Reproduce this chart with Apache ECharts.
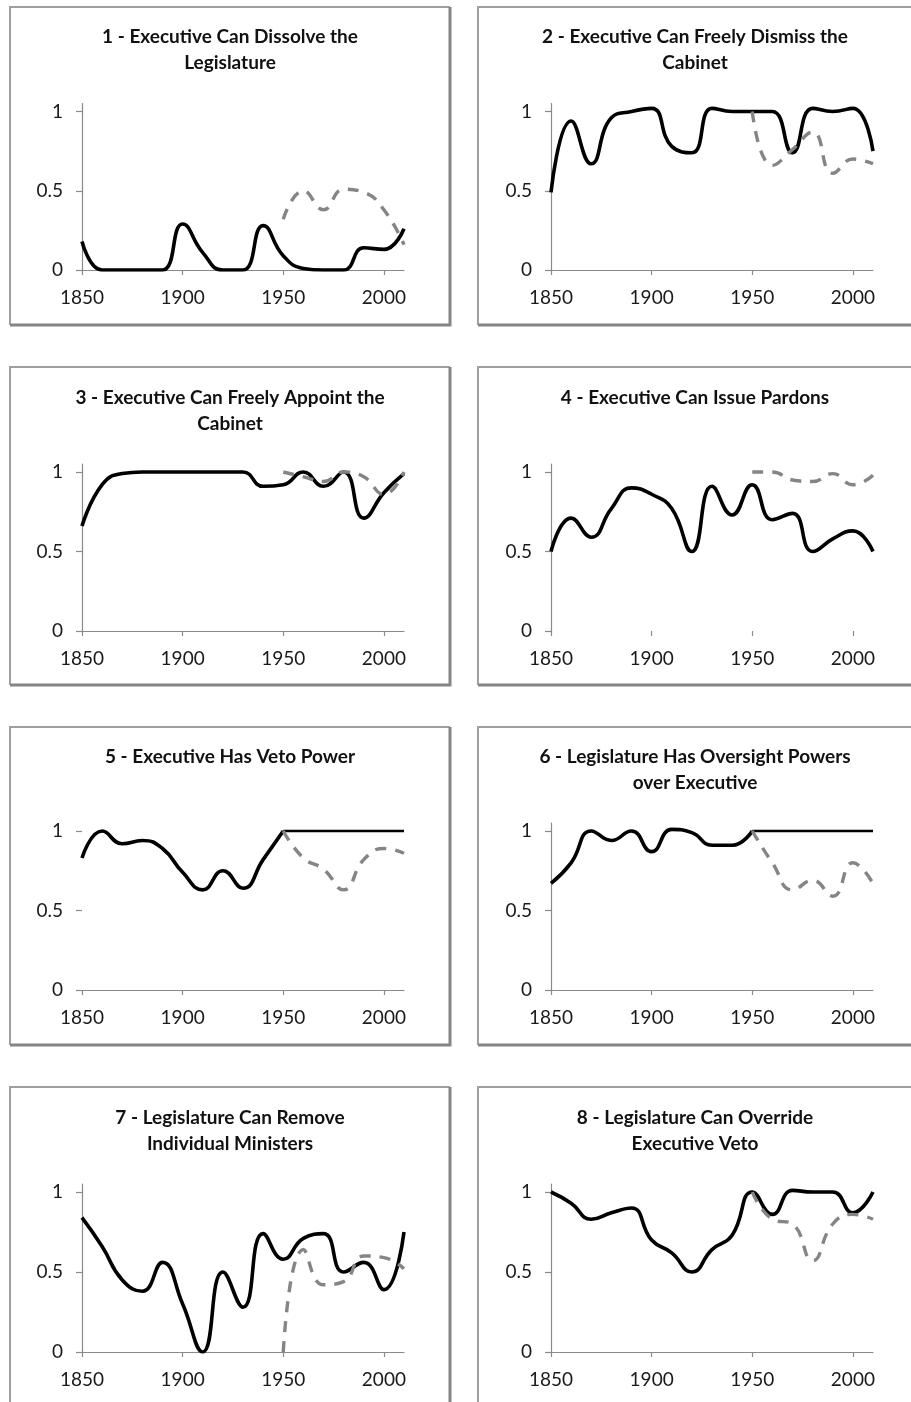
<!DOCTYPE html>
<html>
<head>
<meta charset="utf-8">
<script src="https://cdn.jsdelivr.net/npm/echarts@6/dist/echarts.min.js"></script>
<style>
  html, body { margin: 0; padding: 0; background: #fff; }
  #chart { width: 911px; height: 1402px; }
</style>
</head>
<body>
<div id="chart"></div>
<script>
// ---- Data ----
const years = [1850, 1860, 1870, 1880, 1890, 1900, 1910, 1920, 1930, 1940, 1950, 1960, 1970, 1980, 1990, 2000, 2010];
const xTickLabels = [1850, 1900, 1950, 2000];
const yTickLabels = [0, 0.5, 1];

const titles = [
  '1 - Executive Can Dissolve the\nLegislature',
  '2 - Executive Can Freely Dismiss the\nCabinet',
  '3 - Executive Can Freely Appoint the\nCabinet',
  '4 - Executive Can Issue Pardons',
  '5 - Executive Has Veto Power',
  '6 - Legislature Has Oversight Powers\nover Executive',
  '7 - Legislature Can Remove\nIndividual Ministers',
  '8 - Legislature Can Override\nExecutive Veto'
];

const p1Black = [0.18, 0, 0, 0, 0, 0.29, 0.11, 0, 0, 0.28, 0.09, 0.01, 0, 0, 0.14, 0.13, 0.26];
const p1Gray  = [null, null, null, null, null, null, null, null, null, null, 0.32, 0.50, 0.38, 0.51, 0.49, 0.38, 0.16];

const p2Black = [0.49, 0.94, 0.67, 0.96, 1.0, 1.02, 0.78, 0.74, 1.02, 1.0, 1.0, 1.0, 0.74, 1.02, 1.0, 1.02, 0.75];
const p2Gray  = [null, null, null, null, null, null, null, null, null, null, 1.0, 0.66, 0.76, 0.87, 0.61, 0.70, 0.67];

const p3Black = [0.66, 0.92, 0.99, 1.0, 1.0, 1.0, 1.0, 1.0, 1.0, 0.91, 0.92, 1.0, 0.91, 1.0, 0.71, 0.87, 0.99];
const p3Gray  = [null, null, null, null, null, null, null, null, null, null, 1.0, 0.97, 0.94, 1.0, 0.97, 0.86, 1.0];

const p4Black = [0.50, 0.71, 0.59, 0.77, 0.90, 0.86, 0.77, 0.50, 0.91, 0.73, 0.92, 0.70, 0.74, 0.50, 0.58, 0.63, 0.50];
const p4Gray  = [null, null, null, null, null, null, null, null, null, null, 1.0, 1.0, 0.95, 0.94, 0.99, 0.92, 0.98];

const p5Black = [0.83, 1.0, 0.92, 0.94, 0.89, 0.74, 0.63, 0.75, 0.64, 0.82, 1.0, 1.0, 1.0, 1.0, 1.0, 1.0, 1.0];
const p5Gray  = [null, null, null, null, null, null, null, null, null, null, 1.0, 0.83, 0.76, 0.63, 0.82, 0.89, 0.86];

const p6Black = [0.67, 0.80, 1.0, 0.94, 1.0, 0.87, 1.01, 0.99, 0.91, 0.91, 1.0, 1.0, 1.0, 1.0, 1.0, 1.0, 1.0];
const p6Gray  = [null, null, null, null, null, null, null, null, null, null, 1.0, 0.80, 0.63, 0.69, 0.59, 0.80, 0.67];

const p7Black = [0.84, 0.66, 0.45, 0.38, 0.56, 0.30, 0.0, 0.50, 0.28, 0.74, 0.58, 0.71, 0.74, 0.50, 0.56, 0.39, 0.75];
const p7Gray  = [null, null, null, null, null, null, null, null, null, null, 0.0, 0.64, 0.42, 0.44, 0.60, 0.59, 0.52];

const p8Black = [1.0, 0.93, 0.83, 0.87, 0.90, 0.70, 0.62, 0.50, 0.64, 0.73, 1.0, 0.86, 1.01, 1.0, 1.0, 0.87, 1.0];
const p8Gray  = [null, null, null, null, null, null, null, null, null, null, 1.0, 0.83, 0.80, 0.57, 0.80, 0.86, 0.83];

const blackSeries = [p1Black, p2Black, p3Black, p4Black, p5Black, p6Black, p7Black, p8Black];
const graySeries  = [p1Gray, p2Gray, p3Gray, p4Gray, p5Gray, p6Gray, p7Gray, p8Gray];

// ---- Layout ----
const FONT = 'Lato, "Open Sans", sans-serif';
const colX = [{ plotLeft: 82, boxL: 10, boxR: 450 }, { plotLeft: 551, boxL: 478, boxR: 916 }];
const rows = [
  { y1: 111.5, y0: 270, boxT: 7, boxB: 325, titleTop: 24 },
  { y1: 472, y0: 631, boxT: 367, boxB: 685, titleTop: 385 },
  { y1: 831, y0: 990, boxT: 727, boxB: 1045, titleTop: 744 },
  { y1: 1192, y0: 1352, boxT: 1087, boxB: 1420, titleTop: 1105 }
];
const Y_MAX = 1.05;
const PLOT_W = 322;
// per-panel quirks seen in the picture
const hideXAxisLine = [false, false, false, true, false, false, false, false];
const hideYAxisLine = [false, false, false, false, true, false, false, false];
const thinAfter1950 = [false, false, false, false, true, true, false, false];

function pairs(arr, from, to) {
  const out = [];
  for (let i = 0; i < years.length; i++) {
    const y = years[i];
    if (arr[i] == null) continue;
    if (from != null && y < from) continue;
    if (to != null && y > to) continue;
    out.push([y, arr[i]]);
  }
  return out;
}

const grids = [], xAxes = [], yAxes = [], series = [], titleOpts = [], graphics = [];

for (let p = 0; p < 8; p++) {
  const c = colX[p % 2];
  const r = rows[Math.floor(p / 2)];
  const unit = r.y0 - r.y1;
  const top = r.y0 - unit * Y_MAX;
  grids.push({ left: c.plotLeft, top: top, width: PLOT_W, height: r.y0 - top, containLabel: false });

  xAxes.push({
    type: 'value', gridIndex: p, min: 1850, max: 2010, interval: 50,
    axisLine: { show: !hideXAxisLine[p], lineStyle: { color: '#8a8a8a', width: 1.2 } },
    axisTick: { show: true, inside: false, length: 5, customValues: xTickLabels, lineStyle: { color: '#8a8a8a', width: 1.2 } },
    axisLabel: { customValues: xTickLabels, margin: 18, fontFamily: FONT, fontSize: 19, color: '#1a1a1a',
                 formatter: function (v) { return String(v); } },
    splitLine: { show: false }
  });
  yAxes.push({
    type: 'value', gridIndex: p, min: 0, max: Y_MAX, interval: 0.5,
    axisLine: { show: !hideYAxisLine[p], lineStyle: { color: '#8a8a8a', width: 1.2 } },
    axisTick: { show: true, inside: false, length: 6, customValues: yTickLabels, lineStyle: { color: '#8a8a8a', width: 1.2 } },
    axisLabel: { customValues: yTickLabels, margin: 19, fontFamily: FONT, fontSize: 19, color: '#1a1a1a',
                 formatter: function (v) { return String(v); } },
    splitLine: { show: false }
  });

  const common = { type: 'line', xAxisIndex: p, yAxisIndex: p, smooth: 0.5, showSymbol: false, symbol: 'none', silent: true, animation: false };
  if (thinAfter1950[p]) {
    series.push(Object.assign({}, common, { data: pairs(blackSeries[p], null, 1950), lineStyle: { color: '#000', width: 3.6 } }));
    series.push(Object.assign({}, common, { data: pairs(blackSeries[p], 1950, null), lineStyle: { color: '#000', width: 2.4 } }));
  } else {
    series.push(Object.assign({}, common, { data: pairs(blackSeries[p]), lineStyle: { color: '#000', width: 3.6 } }));
  }
  series.push(Object.assign({}, common, { data: pairs(graySeries[p]), z: 3, lineStyle: { color: '#858585', width: 3.4, type: [11, 9] } }));

  titleOpts.push({
    text: titles[p], left: (c.boxL + Math.min(c.boxR, 912)) / 2, top: r.titleTop, textAlign: 'center', padding: 0,
    textStyle: { fontFamily: FONT, fontWeight: 'bold', fontSize: 19, color: '#111', lineHeight: 26 }
  });

  // panel frame
  const bR = c.boxR, bB = r.boxB;
  graphics.push({ type: 'polyline', z: 50, silent: true,
    shape: { points: [[c.boxL, bB], [c.boxL, r.boxT], [bR, r.boxT]] },
    style: { stroke: '#a0a0a0', lineWidth: 2, fill: null } });
  graphics.push({ type: 'polyline', z: 50, silent: true,
    shape: { points: [[c.boxL, bB], [bR, bB], [bR, r.boxT]] },
    style: { stroke: '#858585', lineWidth: 3, fill: null } });
}

// the bottom of panel 8's labels is cut in the picture
graphics.push({ type: 'rect', z: 100, silent: true, shape: { x: 481, y: 1387, width: 440, height: 20 }, style: { fill: '#fff' } });

const chart = echarts.init(document.getElementById('chart'), null, { renderer: 'canvas' });
chart.setOption({
  backgroundColor: '#fff',
  animation: false,
  title: titleOpts,
  grid: grids,
  xAxis: xAxes,
  yAxis: yAxes,
  series: series,
  graphic: graphics
});
</script>
</body>
</html>
